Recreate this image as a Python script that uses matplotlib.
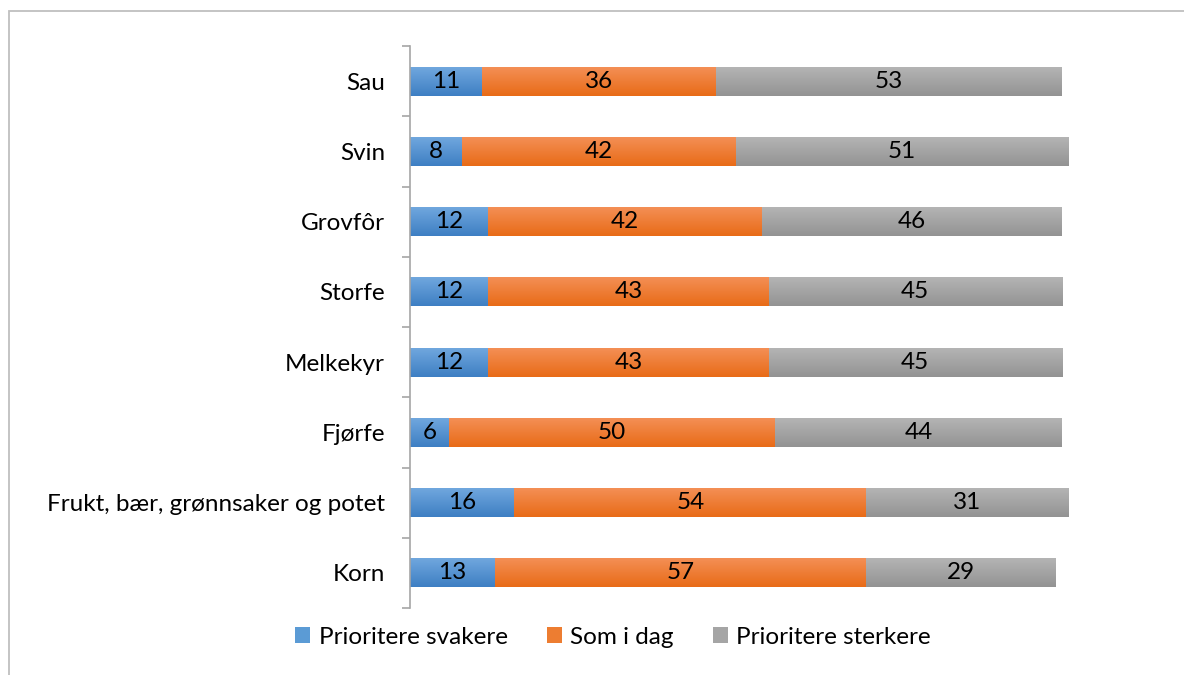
import matplotlib
matplotlib.use("Agg")
import matplotlib.pyplot as plt
import numpy as np
from matplotlib.patches import Rectangle, Patch
from matplotlib.colors import LinearSegmentedColormap

categories = ["Korn", "Frukt, bær, grønnsaker og potet", "Fjørfe", "Melkekyr",
              "Storfe", "Grovfôr", "Svin", "Sau"]
svakere = [13, 16, 6, 12, 12, 12, 8, 11]
som_i_dag = [57, 54, 50, 43, 43, 42, 42, 36]
sterkere = [29, 31, 44, 45, 45, 46, 51, 53]
series_names = ["Prioritere svakere", "Som i dag", "Prioritere sterkere"]

plt.rcParams['font.family'] = ['Lato', 'DejaVu Sans']
FS = 17.5

fig = plt.figure(figsize=(11.84, 6.75), dpi=100)
W, H = 1184, 675
ax = fig.add_axes([410 / W, 1 - 608 / H, 652 / W, 562 / H])

grads = [("#70a7de", "#3e7fc3"), ("#f48f55", "#e86b17"), ("#b4b4b4", "#939393")]
solid = ["#5b9bd5", "#ed7d31", "#a5a5a5"]
series = [svakere, som_i_dag, sterkere]
y = np.arange(len(categories))
left = np.zeros(len(categories))
bh = 0.41
grad_img = np.linspace(0, 1, 64).reshape(-1, 1)
for vals, (ctop, cbot), sc in zip(series, grads, solid):
    bars = ax.barh(y, vals, left=left, height=bh, color=sc, edgecolor='none', clip_on=False)
    cmap = LinearSegmentedColormap.from_list("g", [ctop, cbot])
    for b, v, l in zip(bars, vals, left):
        x0, y0 = b.get_x(), b.get_y()
        im = ax.imshow(grad_img, cmap=cmap, aspect='auto', origin='upper',
                       extent=[x0, x0 + b.get_width(), y0, y0 + b.get_height()],
                       zorder=2, clip_on=False)
        im.set_clip_path(b)
        ax.text(l + v / 2, b.get_y() + bh / 2, str(v), ha='center', va='center',
                fontsize=FS, color='black', zorder=3)
    left = left + np.array(vals)

ax.set_xlim(0, 100)
ax.set_ylim(-0.5, len(categories) - 0.5)
ax.set_yticks(y)
ax.set_yticklabels(categories, fontsize=FS)
ax.set_yticks(np.arange(-0.5, len(categories), 1), minor=True)
ax.tick_params(axis='y', which='major', length=0, pad=18)
ax.tick_params(axis='y', which='minor', length=6, color='#a6a6a6', width=1.2)
ax.set_xticks([])
for s in ['top', 'right', 'bottom']:
    ax.spines[s].set_visible(False)
ax.spines['left'].set_color('#a6a6a6')
ax.spines['left'].set_linewidth(1.2)

handles = [Patch(facecolor=c, edgecolor='none') for c in solid]
fig.legend(handles, series_names, loc='center', bbox_to_anchor=(613 / W, 1 - 637 / H),
           ncol=3, frameon=False, fontsize=FS, handlelength=0.62, handleheight=0.62,
           handletextpad=0.35, columnspacing=1.6)

fig.add_artist(Rectangle((9 / W, -0.1), 1.2, 1 - 11 / H + 0.1, transform=fig.transFigure,
                         fill=False, edgecolor='#bfbfbf', linewidth=1.3))

fig.savefig("out.png", dpi=100)
